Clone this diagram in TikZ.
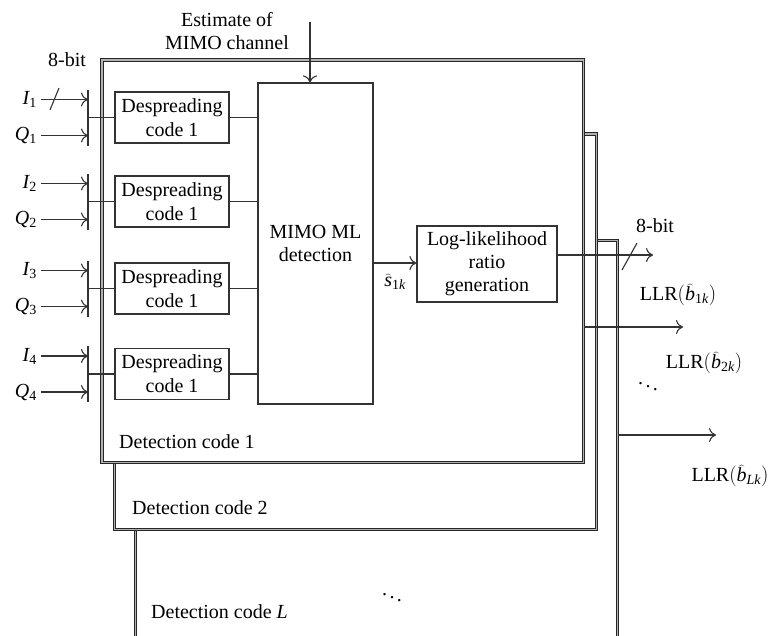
\documentclass[tikz,border=0pt]{standalone}
\usepackage{fontspec}
\setmainfont{Liberation Serif}
\usetikzlibrary{arrows.meta}
\begin{document}
\begin{tikzpicture}[x=1pt,y=-1pt,
  font=\fontsize{20}{25}\selectfont,
  ln/.style={draw=black!80, line width=1.1pt},
  arr/.style={ln, -{Computer Modern Rightarrow[length=7pt,width=14pt,line width=1.1pt]}},
  box/.style={ln, fill=white, align=center, inner sep=0pt},
  dsp/.style={box, minimum width=114, minimum height=51},
  frame/.style={draw=black!85, line width=0.9pt, double=black!30, double distance=1.8pt, fill=white, inner sep=0pt},
  lab/.style={inner sep=1pt},
  inlab/.style={inner ysep=0pt, inner xsep=4pt, anchor=east}]
\clip (0,0) rectangle (770,635);
\fill[white] (0,0) rectangle (770,635);
% stacked frames
\node[frame, minimum width=482, minimum height=479.5] (fL) at (376.5,480.25) {};
\node[frame, minimum width=482, minimum height=395.5] (f2) at (355.5,331.75) {};
\node[frame, minimum width=481.5, minimum height=402.5] (f1) at (342.75,261.25) {};
\node[lab, anchor=west] (t1) at (118,442) {Detection code 1};
\node[lab, anchor=west] (t2) at (131,508) {Detection code 2};
\node[lab, anchor=west] (tL) at (150,612) {Detection code $\mathit{L}$};
\node[lab] (dotsB) at (392,594) {$\ddots$};
% MIMO detection
\node[box, minimum width=115, minimum height=321, text depth=0pt] (mimo) at (315.5,243.5) {MIMO ML\\[-2pt]detection};
\node[lab, align=center, font=\fontsize{20}{23}\selectfont] (est) at (227,31) {Estimate of\\MIMO channel};
\coordinate (estc) at (310,22);
\draw[arr] (estc) -- (estc |- mimo.north);
% despreading branches
\foreach \k/\c in {1/117.5,2/201.5,3/288.5,4/374} {
  \node[dsp] (d\k) at (172,\c) {Despreading\\[-1pt]code 1};
  \coordinate (b\k) at (88,\c);
  \draw[ln] (88,\c-28) -- (88,\c+28);
  \draw[ln] (b\k) -- (d\k.west);
  \draw[ln] (d\k.east) -- (d\k.east -| mimo.west);
  \node[inlab] (I\k) at (41,\c-18) {$\mathit{I}_{\mathrm{\k}}$};
  \node[inlab] (Q\k) at (41,\c+18) {$\mathit{Q}_{\mathrm{\k}}$};
  \draw[arr] (I\k.east) -- (I\k.east -| b\k);
  \draw[arr] (Q\k.east) -- (Q\k.east -| b\k);
}
\node[lab] (bit1) at (67,60) {8-bit};
\draw[ln] (50,110) -- (59,88);
% LLR generation
\node[box, minimum width=140, minimum height=76] (llr) at (487,264) {Log-likelihood\\[-2pt]ratio\\[-2pt]generation};
\coordinate (sk) at (373,263);
\draw[arr] (sk -| mimo.east) -- (sk -| llr.west);
\node[lab] (sklab) at (395,282) {$\widehat{\mathit{s}}_{\mathrm{1}\mathit{k}}$};
% outputs
\coordinate (o1) at (653,255);
\coordinate (o2) at (683,327);
\coordinate (oL) at (716,435);
\draw[arr] (o1 -| llr.east) -- (o1);
\draw[ln] (622,270) -- (637,243);
\node[lab] (bit2) at (655,226) {8-bit};
\draw[arr] (o2 -| f1.east) -- (o2);
\draw[arr] (oL -| fL.east) -- (oL);
\node[lab] (llr1) at (678,295) {LLR$(\widehat{\mathit{b}}_{\mathrm{1}\mathit{k}})$};
\node[lab] (llr2) at (704,363) {LLR$(\widehat{\mathit{b}}_{\mathrm{2}\mathit{k}})$};
\node[lab] (dotsR) at (648,383) {$\ddots$};
\node[lab] (llrL) at (730,476) {LLR$(\widehat{\mathit{b}}_{\mathit{Lk}})$};
\end{tikzpicture}
\end{document}
